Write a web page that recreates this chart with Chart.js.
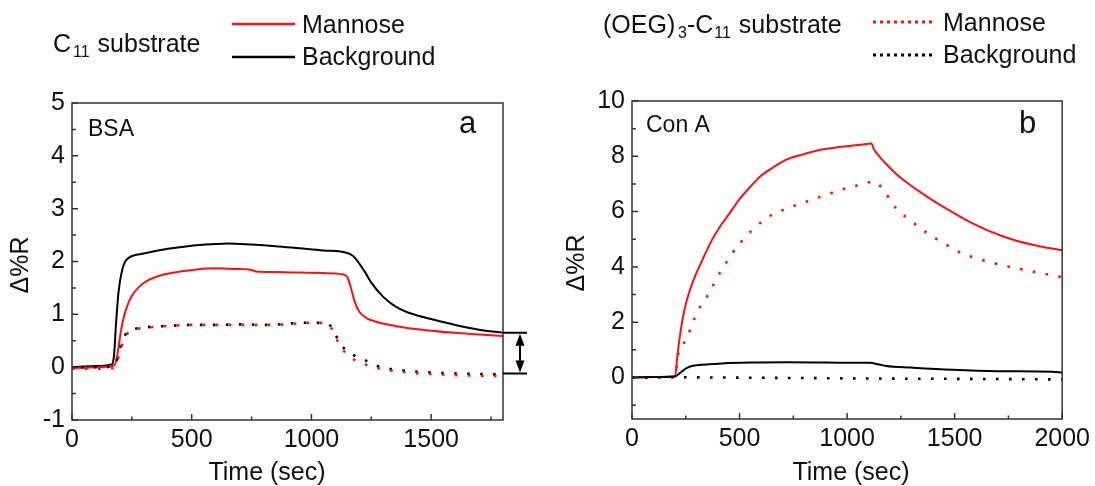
<!DOCTYPE html>
<html>
<head>
<meta charset="utf-8">
<script src="https://cdn.jsdelivr.net/npm/chart.js@4.4.0/dist/chart.umd.min.js"></script>
<style>
  html, body { margin: 0; padding: 0; background: #fff; }
  #wrap { position: relative; width: 1095px; height: 486px; overflow: hidden; }
  canvas { position: absolute; top: 0; }
  #chart_a { left: 0; }
  #chart_b { left: 547px; }
</style>
</head>
<body>
<div id="wrap">
  <canvas id="chart_a" width="547" height="486"></canvas>
  <canvas id="chart_b" width="548" height="486"></canvas>
</div>
<script>
const FONT = '"Liberation Sans", Arial, sans-serif';
const RED = '#ff1010';
const BLACK = '#000000';

// ---- panel a : BSA ----
const a_c11_bg_t = [0, 100, 165, 175, 185, 195, 210, 225, 240, 300, 400, 500, 600, 650, 750, 850, 950, 1050, 1150, 1175, 1200, 1225, 1250, 1300, 1350, 1400, 1450, 1500, 1600, 1700, 1800];
const a_c11_bg_v = [0.0, 0.02, 0.05, 0.2, 0.9, 1.45, 1.85, 2.02, 2.08, 2.15, 2.24, 2.3, 2.33, 2.34, 2.32, 2.29, 2.25, 2.21, 2.16, 2.1, 1.96, 1.79, 1.6, 1.33, 1.15, 1.04, 0.97, 0.91, 0.8, 0.71, 0.65];

const a_c11_man_t = [0, 100, 175, 185, 195, 205, 215, 230, 250, 280, 320, 380, 450, 520, 600, 680, 750, 770, 850, 950, 1050, 1130, 1150, 1165, 1180, 1200, 1230, 1270, 1330, 1400, 1500, 1600, 1700, 1800];
const a_c11_man_v = [-0.02, 0.0, 0.03, 0.13, 0.4, 0.7, 0.92, 1.15, 1.35, 1.52, 1.65, 1.75, 1.81, 1.85, 1.87, 1.86, 1.84, 1.81, 1.8, 1.79, 1.78, 1.76, 1.7, 1.5, 1.25, 1.05, 0.93, 0.86, 0.8, 0.74, 0.69, 0.65, 0.62, 0.59];

const a_oeg_t = [0, 100, 170, 185, 200, 215, 230, 250, 300, 400, 500, 600, 700, 800, 900, 950, 1000, 1060, 1080, 1100, 1120, 1150, 1180, 1220, 1260, 1300, 1400, 1500, 1600, 1700, 1800];
const a_oeg_bg_v = [0.0, 0.0, 0.02, 0.1, 0.35, 0.55, 0.66, 0.71, 0.75, 0.78, 0.8, 0.8, 0.81, 0.8, 0.82, 0.84, 0.84, 0.83, 0.78, 0.62, 0.45, 0.3, 0.22, 0.14, 0.05, -0.01, -0.07, -0.1, -0.12, -0.13, -0.14];
const a_oeg_man_v = [-0.03, -0.03, -0.02, 0.05, 0.3, 0.5, 0.63, 0.7, 0.74, 0.78, 0.8, 0.8, 0.8, 0.8, 0.81, 0.83, 0.84, 0.83, 0.76, 0.58, 0.4, 0.24, 0.14, 0.06, 0.0, -0.04, -0.1, -0.13, -0.15, -0.16, -0.17];

const a_x_ticks = [0, 500, 1000, 1500];
const a_x_minor = [250, 750, 1250, 1750];
const a_y_ticks = [-1, 0, 1, 2, 3, 4, 5];
const a_y_minor = [-0.5, 0.5, 1.5, 2.5, 3.5, 4.5];
const a_arrow = [0.65, -0.12];

// ---- panel b : Con A ----
const b_c11_man_t = [0, 100, 200, 210, 220, 235, 255, 290, 330, 370, 410, 450, 500, 550, 600, 660, 720, 800, 870, 950, 1030, 1100, 1112, 1125, 1150, 1182, 1230, 1290, 1337, 1400, 1490, 1570, 1646, 1720, 1800, 1900, 2000];
const b_c11_man_v = [0, 0.02, 0.05, 0.7, 1.35, 2.1, 2.8, 3.6, 4.3, 4.95, 5.47, 5.9, 6.45, 6.9, 7.3, 7.62, 7.89, 8.08, 8.23, 8.32, 8.39, 8.45, 8.47, 8.25, 8.0, 7.72, 7.35, 6.98, 6.72, 6.4, 5.98, 5.63, 5.35, 5.12, 4.92, 4.74, 4.6];

const b_oeg_man_t = [0, 100, 200, 215, 254, 277, 308, 347, 416, 501, 625, 700, 811, 900, 996, 1060, 1127, 1180, 1228, 1300, 1352, 1450, 1537, 1620, 1723, 1850, 2000];
const b_oeg_man_v = [0, 0, 0.02, 0.85, 1.39, 1.88, 2.43, 2.91, 3.88, 4.85, 5.76, 6.05, 6.36, 6.6, 6.85, 6.97, 7.09, 6.65, 6.12, 5.65, 5.33, 4.85, 4.48, 4.27, 4.06, 3.85, 3.63];

const b_c11_bg_t = [0, 100, 200, 220, 245, 270, 310, 360, 420, 550, 718, 900, 1050, 1104, 1150, 1182, 1300, 1490, 1700, 1954, 2000];
const b_c11_bg_v = [0, 0.02, 0.04, 0.14, 0.3, 0.4, 0.45, 0.48, 0.51, 0.54, 0.55, 0.54, 0.53, 0.53, 0.47, 0.42, 0.36, 0.28, 0.23, 0.21, 0.18];

const b_oeg_bg_t = [0, 200, 400, 800, 1200, 1600, 2000];
const b_oeg_bg_v = [0.0, 0.01, 0.0, -0.02, -0.04, -0.05, -0.07];

const b_x_ticks = [0, 500, 1000, 1500, 2000];
const b_x_minor = [250, 750, 1250, 1750];
const b_y_ticks = [0, 2, 4, 6, 8, 10];
const b_y_minor = [-1, 1, 3, 5, 7, 9];

function pts(t, v) {
    return t.map((x, i) => ({x: x, y: v[i]}));
}

function solid(data, color) {
    return {data: data, borderColor: color, borderWidth: 2, pointRadius: 0,
            fill: false, cubicInterpolationMode: 'monotone'};
}

function dotted(data, color, offset) {
    return {data: data, borderColor: color, borderWidth: 2.6, pointRadius: 0, fill: false,
            borderDash: [2.6, 10.4], borderDashOffset: offset || 0, cubicInterpolationMode: 'monotone'};
}

// draws text pieces one after the other (for subscripts)
function textRuns(ctx, x, y, parts) {
    parts.forEach(p => {
        ctx.font = p.size + 'px ' + FONT;
        ctx.fillText(p.text, x, y + (p.dy || 0));
        x += ctx.measureText(p.text).width + (p.gap || 0);
    });
}

function legendLine(ctx, x1, x2, y, color, dash) {
    ctx.save();
    ctx.strokeStyle = color;
    ctx.lineWidth = dash ? 3 : 2.5;
    ctx.setLineDash(dash || []);
    ctx.beginPath();
    ctx.moveTo(x1, y);
    ctx.lineTo(x2, y);
    ctx.stroke();
    ctx.restore();
}

const decor = {
    id: 'decor',
    afterDraw(chart, args, o) {
        const ctx = chart.ctx;
        const a = chart.chartArea;
        const xs = chart.scales.x, ys = chart.scales.y;
        ctx.save();
        // frame
        ctx.strokeStyle = '#333';
        ctx.lineWidth = 1.5;
        ctx.strokeRect(a.left, a.top, a.right - a.left, a.bottom - a.top);
        // inward ticks
        ctx.beginPath();
        o.xTicks.forEach(v => { const p = xs.getPixelForValue(v); ctx.moveTo(p, a.bottom); ctx.lineTo(p, a.bottom - 6); });
        o.xMinor.forEach(v => { const p = xs.getPixelForValue(v); ctx.moveTo(p, a.bottom); ctx.lineTo(p, a.bottom - 3.5); });
        o.yTicks.forEach(v => { const p = ys.getPixelForValue(v); ctx.moveTo(a.left, p); ctx.lineTo(a.left + 6, p); });
        o.yMinor.forEach(v => { const p = ys.getPixelForValue(v); ctx.moveTo(a.left, p); ctx.lineTo(a.left + 4, p); });
        ctx.stroke();

        ctx.fillStyle = '#111';
        ctx.textBaseline = 'alphabetic';
        ctx.textAlign = 'left';
        // panel texts
        ctx.font = '23px ' + FONT;
        ctx.fillText(o.tag, o.tagX, o.tagY);
        ctx.font = '31px ' + FONT;
        ctx.fillText(o.letter, o.letterX, o.letterY);
        // axis titles
        ctx.font = '25px ' + FONT;
        ctx.textAlign = 'center';
        ctx.fillText('Time (sec)', o.xTitleX, 480);
        ctx.save();
        ctx.translate(o.yTitleX, o.yTitleY);
        ctx.rotate(-Math.PI / 2);
        ctx.textBaseline = 'middle';
        ctx.fillText('\u0394%R', 0, 0);
        ctx.restore();
        // legend
        ctx.textAlign = 'left';
        textRuns(ctx, o.subX, o.subY, o.subParts);
        legendLine(ctx, o.legX1, o.legX2, o.legY1, RED, o.legDash);
        legendLine(ctx, o.legX1, o.legX2, o.legY2, BLACK, o.legDash);
        ctx.font = '25px ' + FONT;
        ctx.fillText('Mannose', o.legTextX, o.legY1 + 9);
        ctx.fillText('Background', o.legTextX, o.legY2 + 8);
        // double arrow (panel a)
        if (o.arrow) {
            const y1 = ys.getPixelForValue(o.arrow[0]);
            const y2 = ys.getPixelForValue(o.arrow[1]);
            const ax = a.right + 17;
            ctx.strokeStyle = '#000';
            ctx.fillStyle = '#000';
            ctx.lineWidth = 2;
            ctx.beginPath();
            ctx.moveTo(a.right, y1); ctx.lineTo(a.right + 24, y1);
            ctx.moveTo(a.right, y2); ctx.lineTo(a.right + 24, y2);
            ctx.moveTo(ax, y1 + 6); ctx.lineTo(ax, y2 - 6);
            ctx.stroke();
            ctx.beginPath();
            ctx.moveTo(ax, y1 + 1); ctx.lineTo(ax - 4.5, y1 + 13); ctx.lineTo(ax + 4.5, y1 + 13); ctx.closePath();
            ctx.moveTo(ax, y2 - 1); ctx.lineTo(ax - 4.5, y2 - 13); ctx.lineTo(ax + 4.5, y2 - 13); ctx.closePath();
            ctx.fill();
        }
        ctx.restore();
    }
};

function axes(xMax, xTicks, yMin, yMax, yTicks, yWidth, xHeight) {
    const tickFont = {size: 25, family: FONT};
    return {
        x: {
            type: 'linear', min: 0, max: xMax,
            grid: {display: false, drawTicks: false}, border: {display: false},
            ticks: {font: tickFont, color: '#111', padding: 5, autoSkip: false, maxRotation: 0,
                    callback: v => String(v)},
            afterBuildTicks: s => { s.ticks = xTicks.map(v => ({value: v})); },
            afterFit: s => { s.height = xHeight; }
        },
        y: {
            type: 'linear', min: yMin, max: yMax,
            grid: {display: false, drawTicks: false}, border: {display: false},
            ticks: {font: tickFont, color: '#111', padding: 7, autoSkip: false,
                    callback: v => String(v)},
            afterBuildTicks: s => { s.ticks = yTicks.map(v => ({value: v})); },
            afterFit: s => { s.width = yWidth; }
        }
    };
}

try {
    new Chart(document.getElementById('chart_a').getContext('2d'), {
        type: 'line',
        data: {
            datasets: [
                dotted(pts(a_oeg_t, a_oeg_man_v), RED, 0),
                dotted(pts(a_oeg_t, a_oeg_bg_v), BLACK, 4),
                solid(pts(a_c11_man_t, a_c11_man_v), RED),
                solid(pts(a_c11_bg_t, a_c11_bg_v), BLACK)
            ]
        },
        options: {
            responsive: false, animation: false, devicePixelRatio: 1,
            layout: {padding: {top: 103, right: 44, left: 0, bottom: 0}},
            scales: axes(1800, a_x_ticks, -1, 5, a_y_ticks, 72, 66),
            plugins: {
                legend: {display: false}, tooltip: {enabled: false},
                decor: {
                    xTicks: a_x_ticks, xMinor: a_x_minor, yTicks: a_y_ticks, yMinor: a_y_minor,
                    tag: 'BSA', tagX: 88, tagY: 136, letter: 'a', letterX: 459, letterY: 133,
                    xTitleX: 267, yTitleX: 21, yTitleY: 265,
                    subX: 53, subY: 52,
                    subParts: [{text: 'C', size: 25, gap: 2}, {text: '11', size: 16, dy: 5, gap: 1}, {text: ' substrate', size: 25}],
                    legX1: 232, legX2: 295, legY1: 24, legY2: 57, legDash: null, legTextX: 302,
                    arrow: a_arrow
                }
            }
        },
        plugins: [decor]
    });

    new Chart(document.getElementById('chart_b').getContext('2d'), {
        type: 'line',
        data: {
            datasets: [
                dotted(pts(b_oeg_bg_t, b_oeg_bg_v), BLACK, 0),
                solid(pts(b_c11_bg_t, b_c11_bg_v), BLACK),
                dotted(pts(b_oeg_man_t, b_oeg_man_v), RED, 0),
                solid(pts(b_c11_man_t, b_c11_man_v), RED)
            ]
        },
        options: {
            responsive: false, animation: false, devicePixelRatio: 1,
            layout: {padding: {top: 101, right: 32, left: 0, bottom: 0}},
            scales: axes(2000, b_x_ticks, -1.5, 10, b_y_ticks, 85, 67),
            plugins: {
                legend: {display: false}, tooltip: {enabled: false},
                decor: {
                    xTicks: b_x_ticks, xMinor: b_x_minor, yTicks: b_y_ticks, yMinor: b_y_minor,
                    tag: 'Con A', tagX: 99, tagY: 132, letter: 'b', letterX: 472, letterY: 133,
                    xTitleX: 304, yTitleX: 30, yTitleY: 263,
                    subX: 56, subY: 33,
                    subParts: [{text: '(OEG)', size: 25}, {text: ' ', size: 10}, {text: '3', size: 16, dy: 5},
                               {text: '-C', size: 25, gap: 1}, {text: '11', size: 16, dy: 5, gap: 1}, {text: ' substrate', size: 25}],
                    legX1: 326, legX2: 388, legY1: 22, legY2: 55, legDash: [3, 4], legTextX: 396,
                    arrow: null
                }
            }
        },
        plugins: [decor]
    });
} catch (error) {
    console.log(`error: ${error.message}`);
}
</script>
</body>
</html>
